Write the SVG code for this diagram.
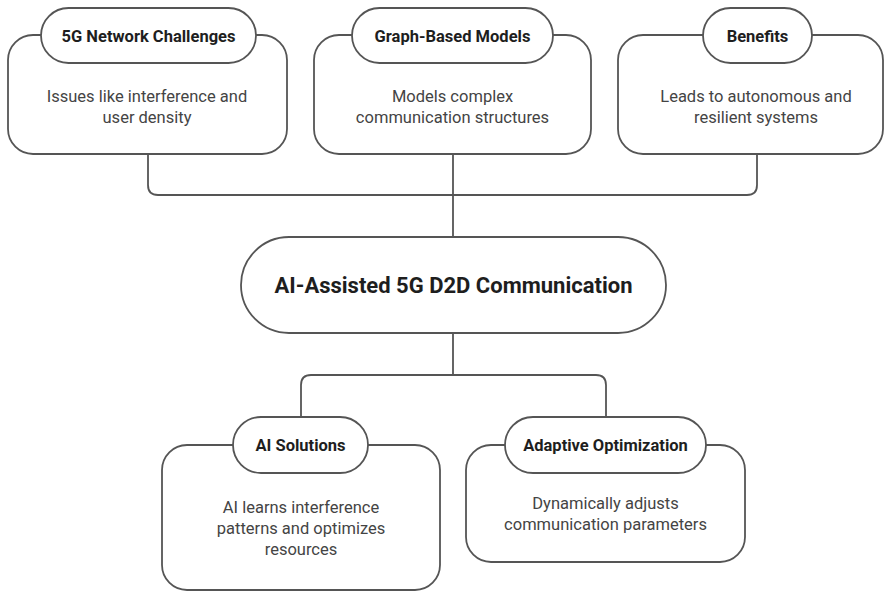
<svg xmlns="http://www.w3.org/2000/svg" width="885" height="592" viewBox="0 0 885 592">
<style>
.box{fill:#fff;stroke:#555;stroke-width:1.8}
.pill{fill:#fff;stroke:#555;stroke-width:1.8}
.conn{fill:none;stroke:#555;stroke-width:1.8}
.t{font-family:Roboto,"Liberation Sans",sans-serif;font-weight:bold;font-size:16.5px;fill:#1e1e1e;text-anchor:middle}
.b{font-family:Roboto,"Liberation Sans",sans-serif;font-size:16.5px;fill:#444;text-anchor:middle}
.c{font-family:Roboto,"Liberation Sans",sans-serif;font-weight:bold;font-size:22px;fill:#1e1e1e;text-anchor:middle}
</style>
<rect width="885" height="592" fill="#fff"/>
<g id="connectors">
<path class="conn" d="M148 154 V185 Q148 195 158 195 H747 Q757 195 757 185 V154"/>
<path class="conn" d="M453 154 V237"/>
<path class="conn" d="M453 333 V375"/>
<path class="conn" d="M301 417 V385 Q301 375 311 375 H596 Q606 375 606 385 V417"/>
</g>
<g id="n-challenges">
<rect class="box" x="8" y="35" width="279" height="119" rx="25"/>
<rect class="pill" x="41" y="8" width="215" height="55" rx="27.5"/>
<text class="t" x="148.5" y="42">5G Network Challenges</text>
<text class="b" x="147" y="102">Issues like interference and</text>
<text class="b" x="147" y="123">user density</text>
</g>
<g id="n-graph">
<rect class="box" x="314" y="35" width="277" height="119" rx="25"/>
<rect class="pill" x="352" y="8" width="201" height="55" rx="27.5"/>
<text class="t" x="452.5" y="42">Graph-Based Models</text>
<text class="b" x="452.5" y="102">Models complex</text>
<text class="b" x="452.5" y="123">communication structures</text>
</g>
<g id="n-benefits">
<rect class="box" x="618" y="35" width="265" height="119" rx="25"/>
<rect class="pill" x="703" y="8" width="109" height="55" rx="27.5"/>
<text class="t" x="757.5" y="42">Benefits</text>
<text class="b" x="756" y="102">Leads to autonomous and</text>
<text class="b" x="756" y="123">resilient systems</text>
</g>
<g id="n-center">
<rect class="pill" x="241" y="237" width="425" height="96" rx="48"/>
<text class="c" x="453.5" y="293">AI-Assisted 5G D2D Communication</text>
</g>
<g id="n-ai">
<rect class="box" x="162" y="445" width="278" height="145" rx="25"/>
<rect class="pill" x="233" y="417" width="135" height="56" rx="28"/>
<text class="t" x="300.5" y="451">AI Solutions</text>
<text class="b" x="301" y="513">AI learns interference</text>
<text class="b" x="301" y="534">patterns and optimizes</text>
<text class="b" x="301" y="555">resources</text>
</g>
<g id="n-adaptive">
<rect class="box" x="466" y="445" width="279" height="117" rx="25"/>
<rect class="pill" x="505" y="417" width="201" height="56" rx="28"/>
<text class="t" x="605.5" y="451">Adaptive Optimization</text>
<text class="b" x="605.5" y="509">Dynamically adjusts</text>
<text class="b" x="605.5" y="530">communication parameters</text>
</g>
</svg>
